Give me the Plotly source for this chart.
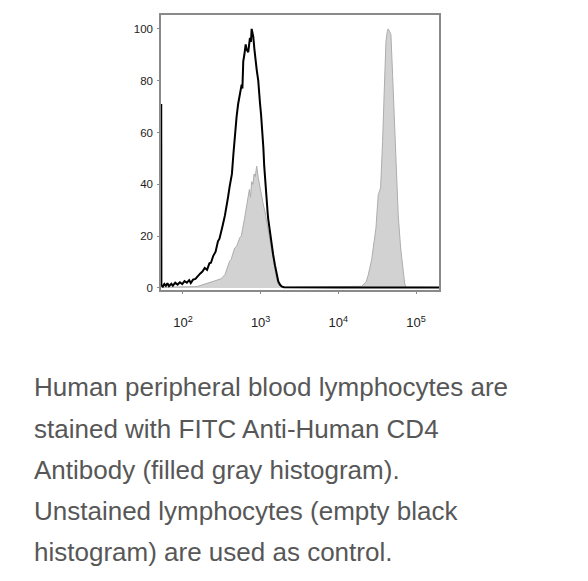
import plotly.graph_objects as go

# ---- data ----
# log10 of fluorescence intensity and % of max for each histogram
unstained_log10 = [1.72, 1.722, 1.74, 1.76, 1.78, 1.80, 1.82, 1.85, 1.87, 1.90, 1.93, 1.96, 1.99, 2.02,
                   2.05, 2.08, 2.10, 2.13, 2.16, 2.19, 2.22, 2.25, 2.28, 2.31, 2.34, 2.36, 2.39, 2.42,
                   2.45, 2.47, 2.49, 2.51, 2.54, 2.56, 2.58, 2.60, 2.63, 2.65, 2.67, 2.69, 2.71, 2.73,
                   2.755, 2.765, 2.776, 2.79, 2.807, 2.82, 2.84, 2.862, 2.875, 2.884, 2.895, 2.905,
                   2.92, 2.936, 2.95, 2.969, 2.98, 2.991, 3.005, 3.021, 3.035, 3.046, 3.06, 3.077,
                   3.09, 3.098, 3.12, 3.142, 3.16, 3.184, 3.205, 3.227, 3.25, 3.27, 3.30, 3.5, 4.0,
                   4.5, 5.3]
unstained_pct = [71, 1.0, 0.5, 1.5, 0.8, 1.8, 0.7, 1.6, 0.9, 2.0, 1.3, 2.2, 1.5, 2.6,
                 2.0, 3.0, 1.9, 3.2, 3.5, 4.6, 5.5, 6.3, 7.7, 7.0, 9.5, 9.7, 12.4, 14,
                 18, 19, 22, 24, 28, 31, 35, 39, 44, 52, 61, 66, 71, 74,
                 78.5, 77, 87.5, 90, 94, 92, 91, 96.5, 95, 100, 98, 97,
                 92, 87, 84, 80, 77, 71.5, 67, 61, 54, 47, 40, 34,
                 29, 26.5, 21, 16.5, 13, 8.8, 5, 2.5, 1.2, 0.6, 0.3, 0.2, 0.2,
                 0.2, 0.2]

cd4_log10 = [1.72, 2.10, 2.15, 2.19, 2.23, 2.27, 2.32, 2.36, 2.40, 2.45, 2.49, 2.54, 2.57, 2.60,
             2.62, 2.645, 2.665, 2.69, 2.71, 2.73, 2.75, 2.77, 2.794, 2.81, 2.837, 2.855, 2.87,
             2.884, 2.901, 2.915, 2.93, 2.949, 2.969, 2.99, 3.013, 3.035, 3.055, 3.075, 3.098,
             3.12, 3.142, 3.165, 3.184, 3.205, 3.227, 3.26, 3.29, 3.5, 3.7, 3.9, 4.1, 4.2, 4.25,
             4.30, 4.33, 4.36, 4.385, 4.41, 4.43, 4.449, 4.484, 4.50, 4.514, 4.544, 4.555, 4.570,
             4.591, 4.613, 4.63, 4.642, 4.66, 4.677, 4.699, 4.719, 4.741, 4.771, 4.802, 4.835,
             4.855, 4.870, 5.3]
cd4_pct = [0.3, 0.3, 0.5, 0.6, 1.0, 1.5, 1.9, 2.2, 2.6, 3.2, 3.5, 5.1, 7.5, 10.3,
           11, 13.5, 15.4, 16, 18, 19.3, 20, 24, 27, 30, 36, 38, 35,
           41, 40, 44, 43, 47, 42.5, 39, 34.7, 32, 29.6, 26, 22,
           18, 14, 10, 6.5, 3.5, 1.3, 0.5, 0.3, 0.4, 0.3, 0.5, 0.4, 0.6, 0.5,
           0.6, 1.5, 2.5, 5, 8, 11, 15.4, 23, 30, 36, 38.6, 45, 56.6,
           76, 95, 99, 100, 99, 97.8, 82, 65.6, 46, 28, 15.4, 5,
           1.5, 0.3, 0.2]

y_ticks = [0, 20, 40, 60, 80, 100]
x_tick_exponents = [2, 3, 4, 5]

caption_lines = [
    "Human peripheral blood lymphocytes are",
    "stained with FITC Anti-Human CD4",
    "Antibody (filled gray histogram).",
    "Unstained lymphocytes (empty black",
    "histogram) are used as control.",
]

W, H = 588, 581
fig = go.Figure()

fig.add_trace(go.Scatter(
    x=[10 ** v for v in cd4_log10], y=cd4_pct, mode="lines",
    fill="tozeroy", fillcolor="#d2d2d2",
    line=dict(color="#adadad", width=1), showlegend=False, hoverinfo="skip"))

fig.add_trace(go.Scatter(
    x=[10 ** v for v in unstained_log10], y=unstained_pct, mode="lines",
    line=dict(color="#000000", width=2), showlegend=False, hoverinfo="skip"))

fig.update_xaxes(
    type="log", range=[1.717, 5.296], domain=[161 / W, 439 / W],
    showgrid=False, zeroline=False, showline=True, linecolor="#8a8a8a", linewidth=1.5,
    mirror=True, ticks="outside", ticklen=2, tickcolor="#8a8a8a",
    tickvals=[10 ** e for e in x_tick_exponents],
    ticktext=[f"10<sup>{e}</sup>" for e in x_tick_exponents],
    tickfont=dict(family="Liberation Sans, Arial", size=13, color="#222222"),
    ticklabelstandoff=18,
)
fig.update_yaxes(
    range=[-0.8, 105.4], domain=[1 - 292 / H, 1 - 15 / H],
    showgrid=False, zeroline=False, showline=True, linecolor="#8a8a8a", linewidth=1.5,
    mirror=True, ticks="outside", ticklen=2, tickcolor="#8a8a8a",
    tickvals=y_ticks, ticktext=[str(v) for v in y_ticks],
    tickfont=dict(family="Liberation Sans, Arial", size=11.5, color="#222222"),
    ticklabelstandoff=2,
)

line_centers = [390, 431.5, 473, 514.5, 556]
for txt, yc in zip(caption_lines, line_centers):
    fig.add_annotation(
        text=txt, xref="paper", yref="paper", x=32 / W, y=1 - yc / H,
        xanchor="left", yanchor="middle", showarrow=False, align="left",
        font=dict(family="Liberation Sans, Arial", size=26, color="#575757"))

fig.update_layout(
    width=W, height=H, margin=dict(l=0, r=0, t=0, b=0),
    paper_bgcolor="white", plot_bgcolor="white",
)

fig.write_html("out.html")
